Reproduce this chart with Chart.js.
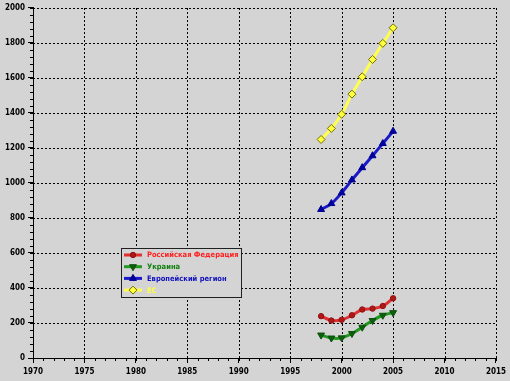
<!DOCTYPE html>
<html>
<head>
<meta charset="utf-8">
<script src="https://cdn.jsdelivr.net/npm/chart.js@4"></script>
<style>
html,body{margin:0;padding:0;background:#d4d4d4;}
#wrap{width:510px;height:381px;}
</style>
</head>
<body>
<div id="wrap"><canvas id="c" width="510" height="381"></canvas></div>
<script>
const years = [1998, 1999, 2000, 2001, 2002, 2003, 2004, 2005];
const russia = [239, 214, 218, 244, 277, 282, 297, 341];
const ukraine = [131, 114, 115, 140, 176, 214, 244, 259];
const euroRegion = [848, 882, 943, 1017, 1087, 1155, 1225, 1295];
const eu = [1248, 1311, 1392, 1507, 1606, 1705, 1797, 1886];
const seriesNames = ['Российская Федерация', 'Украина', 'Европейский регион', 'ЕС'];

const pts = arr => years.map((y, i) => ({x: y, y: arr[i]}));
const FAMILY = '"DejaVu Sans Condensed", "DejaVu Sans"';
const LEGEND_FONT = 'bold 7.5px ' + FAMILY;

const bgPlugin = {
  id: 'bg',
  beforeDraw(chart) {
    const ctx = chart.ctx;
    ctx.save();
    ctx.fillStyle = '#d4d4d4';
    ctx.fillRect(0, 0, chart.width, chart.height);
    ctx.restore();
  }
};

const dottedGrid = {
  id: 'dottedGrid',
  beforeDatasetsDraw(chart) {
    const ctx = chart.ctx, xs = chart.scales.x, ys = chart.scales.y;
    const a = chart.chartArea;
    ctx.save();
    ctx.strokeStyle = '#000';
    ctx.lineWidth = 1;
    ctx.setLineDash([2, 2]);
    ctx.beginPath();
    xs.ticks.forEach(t => {
      if (t.value === xs.min) return;
      const px = Math.round(xs.getPixelForValue(t.value)) + 0.5;
      ctx.moveTo(px, a.bottom);
      ctx.lineTo(px, a.top);
    });
    ys.ticks.forEach(t => {
      if (t.value === ys.min) return;
      const py = Math.round(ys.getPixelForValue(t.value)) + 0.5;
      ctx.moveTo(a.left, py);
      ctx.lineTo(a.right, py);
    });
    ctx.stroke();
    ctx.restore();
  }
};

const minorTicks = {
  id: 'minorTicks',
  afterDraw(chart) {
    const ctx = chart.ctx, xs = chart.scales.x, ys = chart.scales.y;
    const a = chart.chartArea;
    ctx.save();
    ctx.strokeStyle = '#000';
    ctx.lineWidth = 1;
    ctx.beginPath();
    for (let v = xs.min; v <= xs.max; v += 1) {
      const px = Math.round(xs.getPixelForValue(v)) + 0.5;
      ctx.moveTo(px, a.bottom);
      ctx.lineTo(px, a.bottom + 3);
    }
    for (let v = ys.min; v <= ys.max; v += 40) {
      const py = Math.round(ys.getPixelForValue(v)) + 0.5;
      ctx.moveTo(a.left - 3, py);
      ctx.lineTo(a.left, py);
    }
    ctx.stroke();
    ctx.restore();
  }
};

const boxLegend = {
  id: 'boxLegend',
  afterDraw(chart) {
    const ctx = chart.ctx;
    const bx = 121, by = 248, bw = 120, bh = 49;
    ctx.save();
    ctx.fillStyle = '#d4d4d4';
    ctx.fillRect(bx, by, bw, bh);
    ctx.strokeStyle = '#202020';
    ctx.lineWidth = 1;
    ctx.strokeRect(bx + 0.5, by + 0.5, bw, bh);
    ctx.font = LEGEND_FONT;
    ctx.textBaseline = 'middle';
    chart.data.datasets.forEach((ds, i) => {
      const y = by + 7 + i * 11.7;
      ctx.strokeStyle = ds.borderColor;
      ctx.lineWidth = 3;
      ctx.beginPath();
      ctx.moveTo(bx + 3, y);
      ctx.lineTo(bx + 21, y);
      ctx.stroke();
      const opts = {
        pointStyle: ds.pointStyle,
        radius: ds.pointRadius,
        rotation: ds.pointRotation || 0,
        borderWidth: ds.pointBorderWidth || 1
      };
      ctx.fillStyle = ds.pointBackgroundColor;
      ctx.strokeStyle = ds.pointBorderColor;
      ctx.lineWidth = opts.borderWidth;
      Chart.helpers.drawPoint(ctx, opts, bx + 12, y);
      ctx.fillStyle = ds.labelColor;
      ctx.fillText(ds.label, bx + 26, y + 0.5);
    });
    ctx.restore();
  }
};

const tickFont = { family: FAMILY, size: 8, weight: 'bold' };

new Chart(document.getElementById('c'), {
  type: 'line',
  data: {
    datasets: [
      {
        label: seriesNames[0], data: pts(russia),
        borderColor: '#e03030', labelColor: '#ff2020', borderWidth: 3, tension: 0.3,
        pointStyle: 'circle', pointRadius: 2.7,
        pointBackgroundColor: '#b01818', pointBorderColor: '#901010', pointBorderWidth: 1
      },
      {
        label: seriesNames[1], data: pts(ukraine),
        borderColor: '#229a22', labelColor: '#108010', borderWidth: 3, tension: 0.3,
        pointStyle: 'triangle', pointRotation: 180, pointRadius: 4,
        pointBackgroundColor: '#0c600c', pointBorderColor: '#0a500a', pointBorderWidth: 1
      },
      {
        label: seriesNames[2], data: pts(euroRegion),
        borderColor: '#1a1ac8', labelColor: '#1010c0', borderWidth: 3, tension: 0.3,
        pointStyle: 'triangle', pointRadius: 4,
        pointBackgroundColor: '#0000a0', pointBorderColor: '#000090', pointBorderWidth: 1
      },
      {
        label: seriesNames[3], data: pts(eu),
        borderColor: '#ffff50', labelColor: '#ffff40', borderWidth: 3, tension: 0.3,
        pointStyle: 'rectRot', pointRadius: 4,
        pointBackgroundColor: '#ffff40', pointBorderColor: '#707000', pointBorderWidth: 1
      }
    ]
  },
  options: {
    responsive: false,
    animation: false,
    events: [],
    layout: { padding: { top: 2, right: 11, left: 0, bottom: 0 } },
    plugins: { legend: { display: false }, tooltip: { enabled: false } },
    scales: {
      x: {
        type: 'linear', min: 1970, max: 2015,
        ticks: { stepSize: 5, color: '#000', font: tickFont, padding: 4, maxRotation: 0, callback: v => String(v) },
        grid: { drawOnChartArea: false, tickColor: '#000', tickLength: 5 },
        border: { display: true, color: '#000', width: 1 },
        afterFit(s) { s.height = 23; }
      },
      y: {
        min: 0, max: 2000,
        ticks: { stepSize: 200, color: '#000', font: tickFont, padding: 3, callback: v => String(v) },
        grid: { drawOnChartArea: false, tickColor: '#000', tickLength: 5 },
        border: { display: true, color: '#000', width: 1 },
        afterFit(s) { s.width = 33; }
      }
    }
  },
  plugins: [bgPlugin, dottedGrid, minorTicks, boxLegend]
});
</script>
</body>
</html>
